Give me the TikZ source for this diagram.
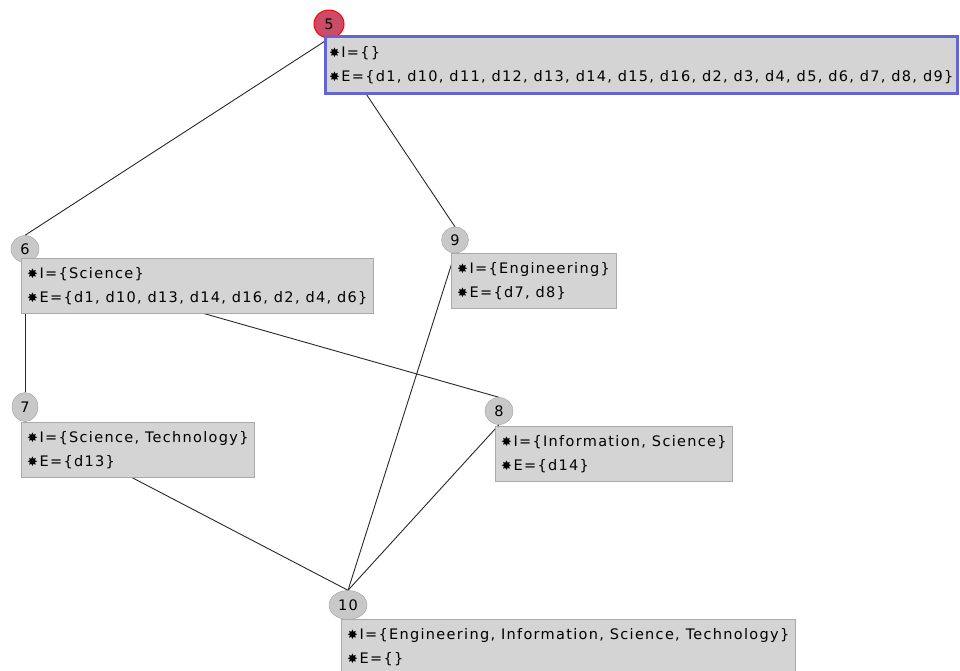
\documentclass[tikz,border=0pt]{standalone}
\usepackage{fontspec}
\usepackage{tikz}
\usetikzlibrary{shapes.geometric, backgrounds}
\newfontfamily\latticefont{DejaVu Sans}[LetterSpace=9]
\newfontfamily\symbolfont{DejaVu Sans}
\definecolor{boxfill}{RGB}{212,212,212}
\definecolor{boxline}{RGB}{170,170,170}
\definecolor{conceptfill}{RGB}{200,200,200}
\definecolor{conceptline}{RGB}{160,160,160}
\definecolor{topfill}{RGB}{204,76,104}
\definecolor{selblue}{RGB}{100,100,210}
\definecolor{linkgray}{RGB}{40,40,40}
\newcommand{\bug}{{\symbolfont\fontsize{13}{13}\selectfont ✸}\hspace{1.5pt}}

\begin{document}
\begin{tikzpicture}[
                x=1pt, y=-1pt,
                concept/.style={ellipse, draw=conceptline, fill=conceptfill, inner sep=0pt,
                  minimum width=28pt, minimum height=27pt, font=\latticefont\fontsize{14.5}{14.5}\selectfont},
                top concept/.style={concept, draw=red, fill=topfill, line width=1pt},
                extent/.style={rectangle, anchor=north west, fill=boxfill, draw=boxline,
                  align=left, minimum height=55pt, inner xsep=6pt, inner ysep=0pt,
                  font=\latticefont\fontsize{14.5}{24}\selectfont},
                selected/.style={extent, draw=selblue, line width=3pt, minimum height=57pt, inner xsep=4pt},
                link/.style={draw=linkgray, line width=0.9pt}
              ]
              \path[use as bounding box, clip] (0,0) rectangle (960,670);

              % Concepts
              \node[top concept, minimum width=30pt, minimum height=28pt] (c5) at (329,24) {5};
              \node[concept] (c6) at (25,249) {6};
              \node[concept, minimum width=26pt, minimum height=29pt] (c7) at (25,407) {7};
              \node[concept, minimum width=27pt, minimum height=26pt] (c9) at (455,240) {9};
              \node[concept] (c8) at (499,411) {8};
              \node[concept, minimum width=38pt, minimum height=29pt] (c10) at (348,605) {10};

              % Intents and extents
              \node[selected] (b5) at (323.5,35) {\bug I=\{\}\\\bug E=\{d1, d10, d11, d12, d13, d14, d15, d16, d2, d3, d4, d5, d6, d7, d8, d9\}};
              \node[extent] (b6) at (21,258) {\bug I=\{Science\}\\\bug E=\{d1, d10, d13, d14, d16, d2, d4, d6\}};
              \node[extent] (b7) at (21,422) {\bug I=\{Science, Technology\}\\\bug E=\{d13\}};
              \node[extent] (b9) at (451,253) {\bug I=\{Engineering\}\\\bug E=\{d7, d8\}};
              \node[extent] (b8) at (495,426) {\bug I=\{Information, Science\}\\\bug E=\{d14\}};
              \node[extent] (b10) at (341,619) {\bug I=\{Engineering, Information, Science, Technology\}\\\bug E=\{\}};

              % Links
              \begin{scope}[on background layer]
                \draw[link] (c5.south) -- (c6.north);
                \draw[link] (c5.south) -- (c9.north);
                \draw[link] (c6.south) -- (c7.north);
                \draw[link] (c6.south) -- (c8.north);
                \draw[link] (c7.south) -- (c10.north);
                \draw[link] (c9.south) -- (c10.north);
                \draw[link] (c8.south) -- (c10.north);
              \end{scope}
              \end{tikzpicture}
\end{document}
